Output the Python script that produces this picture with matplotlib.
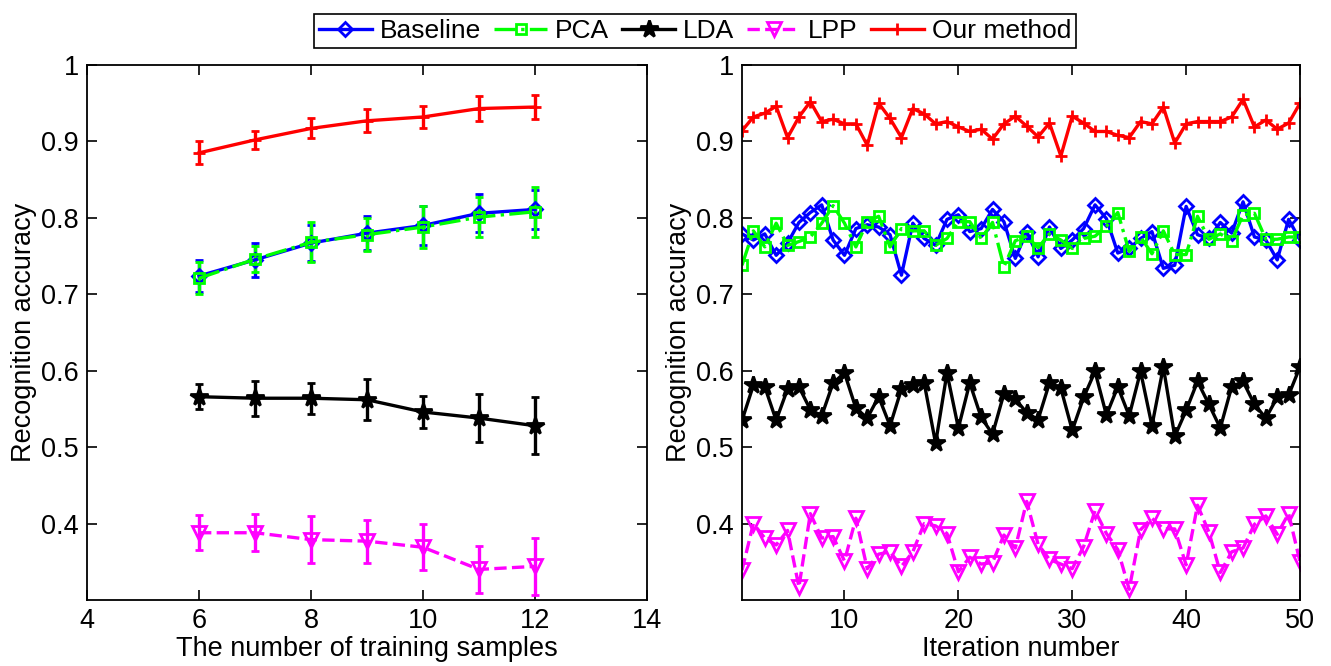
import matplotlib
matplotlib.use("Agg")
import matplotlib.pyplot as plt
import numpy as np

plt.rcParams['font.family'] = ['Liberation Sans', 'DejaVu Sans']

# ---------------- data ----------------
methods = ["Baseline", "PCA", "LDA", "LPP", "Our method"]

train_samples = [6, 7, 8, 9, 10, 11, 12]
left_baseline = [0.724, 0.745, 0.767, 0.780, 0.790, 0.806, 0.811]
left_baseline_err = [0.021, 0.022, 0.024, 0.022, 0.026, 0.025, 0.025]
left_pca = [0.721, 0.746, 0.768, 0.778, 0.788, 0.801, 0.808]
left_pca_err = [0.021, 0.017, 0.026, 0.022, 0.028, 0.026, 0.033]
left_lda = [0.566, 0.564, 0.564, 0.562, 0.546, 0.538, 0.528]
left_lda_err = [0.016, 0.023, 0.020, 0.027, 0.021, 0.031, 0.037]
left_lpp = [0.388, 0.388, 0.379, 0.377, 0.369, 0.340, 0.344]
left_lpp_err = [0.023, 0.024, 0.031, 0.028, 0.030, 0.031, 0.037]
left_ours = [0.885, 0.902, 0.917, 0.927, 0.932, 0.943, 0.945]
left_ours_err = [0.015, 0.012, 0.013, 0.015, 0.015, 0.016, 0.016]

iterations = list(range(1, 51))
right_baseline = [0.779, 0.771, 0.779, 0.751, 0.767, 0.794, 0.807, 0.817, 0.771, 0.751,
                  0.786, 0.791, 0.788, 0.778, 0.725, 0.793, 0.773, 0.764, 0.798, 0.804,
                  0.782, 0.786, 0.811, 0.795, 0.747, 0.782, 0.749, 0.788, 0.760, 0.771,
                  0.786, 0.817, 0.799, 0.754, 0.760, 0.773, 0.782, 0.734, 0.738, 0.815,
                  0.778, 0.773, 0.794, 0.780, 0.821, 0.775, 0.771, 0.745, 0.798, 0.771]
right_pca = [0.738, 0.783, 0.762, 0.793, 0.764, 0.769, 0.775, 0.793, 0.816, 0.793,
             0.762, 0.795, 0.802, 0.762, 0.786, 0.783, 0.783, 0.764, 0.773, 0.795,
             0.795, 0.773, 0.794, 0.736, 0.770, 0.776, 0.761, 0.779, 0.771, 0.760,
             0.773, 0.776, 0.789, 0.807, 0.756, 0.775, 0.753, 0.783, 0.752, 0.752,
             0.802, 0.772, 0.779, 0.770, 0.804, 0.806, 0.772, 0.772, 0.775, 0.775]
right_lda = [0.535, 0.581, 0.579, 0.535, 0.576, 0.579, 0.549, 0.541, 0.584, 0.597,
             0.551, 0.538, 0.566, 0.528, 0.576, 0.581, 0.584, 0.505, 0.597, 0.525,
             0.584, 0.539, 0.517, 0.570, 0.563, 0.545, 0.536, 0.584, 0.577, 0.522,
             0.565, 0.599, 0.542, 0.579, 0.541, 0.599, 0.528, 0.605, 0.514, 0.548,
             0.586, 0.556, 0.525, 0.579, 0.586, 0.556, 0.538, 0.565, 0.568, 0.605]
right_lpp = [0.339, 0.400, 0.381, 0.372, 0.391, 0.317, 0.413, 0.381, 0.383, 0.351,
             0.407, 0.341, 0.360, 0.363, 0.344, 0.363, 0.400, 0.397, 0.387, 0.337,
             0.356, 0.347, 0.349, 0.385, 0.368, 0.429, 0.373, 0.353, 0.347, 0.341,
             0.370, 0.417, 0.387, 0.366, 0.314, 0.392, 0.407, 0.393, 0.393, 0.346,
             0.424, 0.389, 0.336, 0.363, 0.368, 0.399, 0.410, 0.386, 0.413, 0.350]
right_ours = [0.914, 0.932, 0.937, 0.946, 0.905, 0.932, 0.952, 0.926, 0.929, 0.923,
              0.923, 0.895, 0.950, 0.930, 0.905, 0.943, 0.936, 0.923, 0.926, 0.919,
              0.913, 0.916, 0.903, 0.923, 0.933, 0.920, 0.906, 0.924, 0.881, 0.933,
              0.924, 0.913, 0.913, 0.908, 0.905, 0.926, 0.923, 0.945, 0.898, 0.923,
              0.926, 0.926, 0.926, 0.932, 0.955, 0.919, 0.928, 0.916, 0.924, 0.950]

y_ticks = [0.4, 0.5, 0.6, 0.7, 0.8, 0.9, 1.0]
y_ticklabels = ["0.4", "0.5", "0.6", "0.7", "0.8", "0.9", "1"]
left_xticks = [4, 6, 8, 10, 12, 14]
right_xticks = [10, 20, 30, 40, 50]

# ---------------- styles ----------------
LW = 2.4
MEW = 2.0
styles = [
    dict(color="#0000ff", ls="-", marker="D", ms=7.0, mfc="none"),
    dict(color="#00ff00", ls="-.", marker="s", ms=7.0, mfc="none"),
    dict(color="#000000", ls="-", marker="*", ms=13.0, mfc="#000000"),
    dict(color="#ff00ff", ls="--", marker="v", ms=10.5, mfc="none"),
    dict(color="#ff0000", ls="-", marker="+", ms=8.5, mfc="#ff0000"),
]

FS = 19.5
LEG_FS = 19

fig = plt.figure(figsize=(13.31, 6.66), dpi=100)
W, H = 1331.0, 666.0
ax1 = fig.add_axes([87 / W, 1 - 600 / H, (647 - 87) / W, (600 - 65) / H])
ax2 = fig.add_axes([742 / W, 1 - 600 / H, (1300 - 742) / W, (600 - 65) / H])

left_vals = [left_baseline, left_pca, left_lda, left_lpp, left_ours]
left_errs = [left_baseline_err, left_pca_err, left_lda_err, left_lpp_err, left_ours_err]
for name, vals, errs, st in zip(methods, left_vals, left_errs, styles):
    ax1.errorbar(train_samples, vals, yerr=errs, color=st["color"], ls=st["ls"],
                 marker=st["marker"], ms=st["ms"], mfc=st["mfc"], mec=st["color"],
                 mew=MEW, lw=LW, elinewidth=LW, capsize=3.0, capthick=LW, label=name)

right_vals = [right_baseline, right_pca, right_lda, right_lpp, right_ours]
handles = []
for name, vals, st in zip(methods, right_vals, styles):
    h, = ax2.plot(iterations, vals, color=st["color"], ls=st["ls"], marker=st["marker"],
                  ms=st["ms"], mfc=st["mfc"], mec=st["color"], mew=MEW, lw=LW, label=name)
    handles.append(h)

for ax in (ax1, ax2):
    ax.set_ylim(0.3, 1.0)
    ax.set_yticks(y_ticks)
    ax.set_yticklabels(y_ticklabels)
    ax.tick_params(direction="in", length=7, width=1.2, top=True, right=True,
                   labelsize=FS, pad=6)
    for sp in ax.spines.values():
        sp.set_linewidth(1.3)
    ax.set_ylabel("Recognition accuracy", fontsize=FS, labelpad=3)

ax1.set_xlim(4, 14)
ax1.set_xticks(left_xticks)
ax1.set_xlabel("The number of training samples", fontsize=FS, labelpad=1)

ax2.set_xlim(1, 50)
ax2.set_xticks(right_xticks)
ax2.set_xlabel("Iteration number", fontsize=FS, labelpad=1)

leg = fig.legend(handles=handles, labels=methods, loc="center", ncol=5,
                 bbox_to_anchor=(695 / W, 1 - 31 / H), fontsize=LEG_FS, frameon=True,
                 fancybox=False, edgecolor="black", framealpha=1, numpoints=1,
                 handlelength=2.0, handletextpad=0.3, columnspacing=0.5,
                 borderpad=0.2, borderaxespad=0)
leg.get_frame().set_linewidth(1.2)

fig.savefig("out.png", dpi=100)
